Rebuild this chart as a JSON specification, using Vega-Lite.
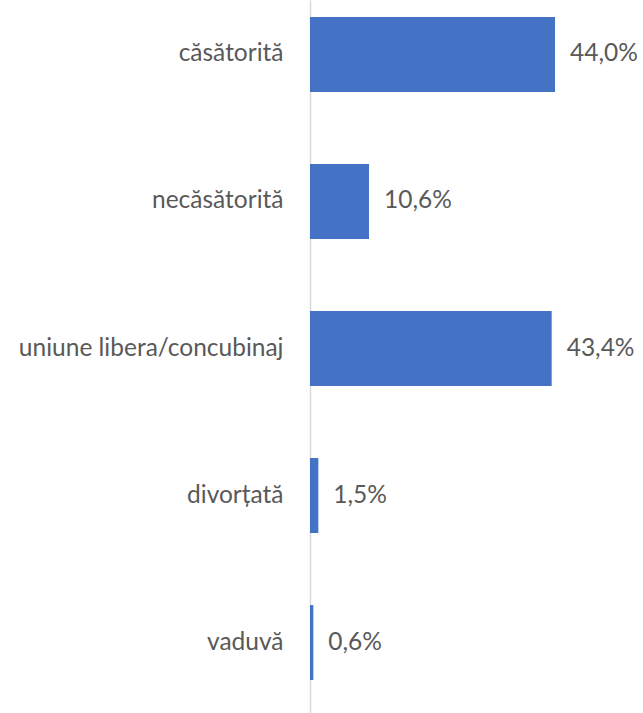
{
  "$schema": "https://vega.github.io/schema/vega-lite/v6.json",
  "autosize": "none",
  "padding": {"left": 310, "top": 0, "right": 0, "bottom": 0},
  "width": 333,
  "height": 713,
  "config": {
    "view": {"stroke": null},
    "locale": {"number": {"decimal": ",", "thousands": ".", "grouping": [3], "currency": ["", " lei"]}},
    "font": "Lato"
  },
  "data": {
    "values": [
      {"status": "căsătorită", "pct": 0.440},
      {"status": "necăsătorită", "pct": 0.106},
      {"status": "uniune libera/concubinaj", "pct": 0.434},
      {"status": "divorțată", "pct": 0.015},
      {"status": "vaduvă", "pct": 0.006}
    ]
  },
  "encoding": {
    "y": {
      "field": "status", "type": "nominal", "sort": null,
      "scale": {"paddingInner": 0.49, "paddingOuter": 0.17, "align": 0.34},
      "axis": {
        "title": null, "ticks": false, "labelPadding": 27, "labelLimit": 320,
        "domainColor": "#d9d9d9", "domainWidth": 1.5,
        "labelFontSize": 24.5, "labelColor": "#595959", "labelFont": "Lato"
      }
    },
    "x": {
      "field": "pct", "type": "quantitative",
      "scale": {"domain": [0, 0.598], "nice": false},
      "axis": null
    }
  },
  "layer": [
    {"mark": {"type": "bar", "color": "#4472C4"}},
    {
      "mark": {"type": "text", "align": "left", "baseline": "middle", "dx": 15, "fontSize": 24.5, "color": "#595959", "font": "Lato"},
      "encoding": {"text": {"field": "pct", "type": "quantitative", "format": ".1%"}}
    }
  ]
}
